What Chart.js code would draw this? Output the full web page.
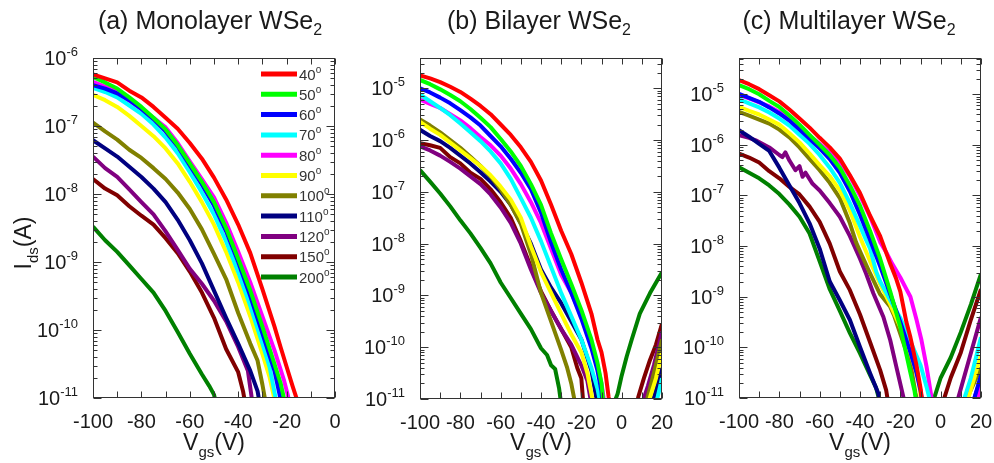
<!DOCTYPE html>
<html><head><meta charset="utf-8">
<script src="https://cdn.jsdelivr.net/npm/chart.js@4.4.1/dist/chart.umd.min.js"></script>
<style>
html,body{margin:0;padding:0;background:#fff;}
#wrap{position:relative;width:994px;height:463px;overflow:hidden;background:#fff;}
canvas{position:absolute;left:0;top:0;}
</style></head><body>
<div id="wrap">
<canvas id="ca" width="994" height="463"></canvas>
<canvas id="cb" width="994" height="463"></canvas>
<canvas id="cc" width="994" height="463"></canvas>
</div>
<script>
// ---- categories ----
const temps = ['40','50','60','70','80','90','100','110','120','150','200'];
const lineColors = ['#ff0000','#00ff00','#0000ff','#00ffff','#ff00ff','#ffff00','#808000','#000080','#800080','#800000','#008000'];

// ---- tick labels ----
const monoXTicks = [-100,-80,-60,-40,-20,0];
const biXTicks = [-100,-80,-60,-40,-20,0,20];
const multiXTicks = [-100,-80,-60,-40,-20,0,20];
const monoYExps = [-11,-10,-9,-8,-7,-6];
const biYExps = [-11,-10,-9,-8,-7,-6,-5];
const multiYExps = [-11,-10,-9,-8,-7,-6,-5];

// ---- (a) Monolayer: [Vgs (V), Ids (A)] ----
const mono40 = [[-100,5.75e-7],[-95,5.01e-7],[-90,4.37e-7],[-85,3.31e-7],[-80,2.63e-7],[-75,1.91e-7],[-70,1.32e-7],[-65,9.12e-8],[-60,5.62e-8],[-55,3.31e-8],[-50,1.74e-8],[-45,8.32e-9],[-40,3.55e-9],[-35,1.35e-9],[-30,3.98e-10],[-25,1.12e-10],[-22.5,5.62e-11],[-20,2.88e-11],[-17.5,1.48e-11],[-15,7.94e-12]];
const mono50 = [[-100,5.25e-7],[-95,4.37e-7],[-90,3.55e-7],[-85,2.63e-7],[-80,1.91e-7],[-75,1.32e-7],[-70,8.91e-8],[-65,5.25e-8],[-60,2.82e-8],[-55,1.51e-8],[-50,7.59e-9],[-45,3.16e-9],[-40,1.12e-9],[-35,3.80e-10],[-30,1.12e-10],[-25,3.16e-11],[-22.5,1.66e-11],[-20.5,7.94e-12]];
const mono60 = [[-100,3.98e-7],[-95,3.55e-7],[-90,3.02e-7],[-85,2.40e-7],[-80,1.78e-7],[-75,1.26e-7],[-70,8.32e-8],[-65,5.01e-8],[-60,2.63e-8],[-55,1.38e-8],[-50,6.76e-9],[-45,2.82e-9],[-40,1.0e-9],[-35,3.16e-10],[-30,8.91e-11],[-25,2.51e-11],[-22,7.94e-12]];
const mono70 = [[-100,3.63e-7],[-95,3.16e-7],[-90,2.63e-7],[-85,2.0e-7],[-80,1.51e-7],[-75,1.05e-7],[-70,6.76e-8],[-65,3.98e-8],[-60,2.09e-8],[-55,1.05e-8],[-50,5.01e-9],[-45,2.0e-9],[-40,7.08e-10],[-35,2.24e-10],[-30,6.31e-11],[-27,2.82e-11],[-24,7.94e-12]];
const mono80 = [[-100,4.47e-7],[-95,3.80e-7],[-90,3.16e-7],[-85,2.34e-7],[-80,1.78e-7],[-75,1.32e-7],[-70,9.55e-8],[-65,5.62e-8],[-60,3.02e-8],[-55,1.66e-8],[-50,8.91e-9],[-45,3.80e-9],[-40,1.41e-9],[-35,5.01e-10],[-30,1.58e-10],[-25,5.01e-11],[-21,1.78e-11],[-18.5,7.94e-12]];
const mono90 = [[-100,2.88e-7],[-95,2.40e-7],[-90,1.91e-7],[-85,1.41e-7],[-80,1.0e-7],[-75,7.08e-8],[-70,4.68e-8],[-65,2.82e-8],[-60,1.51e-8],[-55,7.59e-9],[-50,3.55e-9],[-45,1.41e-9],[-40,5.01e-10],[-35,1.58e-10],[-30,4.47e-11],[-27,2.0e-11],[-24.5,7.94e-12]];
const mono100 = [[-100,1.12e-7],[-95,8.32e-8],[-90,6.31e-8],[-85,4.47e-8],[-80,3.39e-8],[-75,2.40e-8],[-70,1.66e-8],[-65,1.05e-8],[-60,6.03e-9],[-55,3.02e-9],[-50,1.32e-9],[-45,5.62e-10],[-40,1.78e-10],[-35,6.31e-11],[-32,3.55e-11],[-30,1.58e-11],[-28.5,7.94e-12]];
const mono110 = [[-100,6.17e-8],[-95,4.68e-8],[-90,3.55e-8],[-85,2.51e-8],[-80,1.78e-8],[-75,1.20e-8],[-70,7.59e-9],[-65,4.17e-9],[-60,2.09e-9],[-55,9.55e-10],[-50,3.80e-10],[-45,1.51e-10],[-40,6.31e-11],[-35,2.51e-11],[-32,1.26e-11],[-31,7.94e-12]];
const mono120 = [[-100,3.55e-8],[-95,2.40e-8],[-90,1.78e-8],[-85,1.17e-8],[-80,7.59e-9],[-75,5.01e-9],[-70,2.82e-9],[-65,1.51e-9],[-60,7.94e-10],[-55,4.79e-10],[-50,2.69e-10],[-45,1.35e-10],[-40,5.62e-11],[-36,2.51e-11],[-34,7.94e-12]];
const mono150 = [[-100,1.66e-8],[-95,1.20e-8],[-90,9.55e-9],[-85,6.61e-9],[-80,4.79e-9],[-75,3.55e-9],[-70,2.24e-9],[-65,1.35e-9],[-60,7.24e-10],[-55,3.55e-10],[-50,1.51e-10],[-45,5.25e-11],[-40,2.40e-11],[-38,1.26e-11],[-37,7.94e-12]];
const mono200 = [[-100,3.31e-9],[-95,2.09e-9],[-90,1.41e-9],[-85,8.91e-10],[-80,5.62e-10],[-75,3.55e-10],[-70,1.91e-10],[-65,9.33e-11],[-60,4.47e-11],[-55,2.24e-11],[-52,1.51e-11],[-50,1.12e-11],[-49,7.94e-12]];

// ---- (b) Bilayer ----
const bi40 = [[-100,1.78e-5],[-95,1.55e-5],[-90,1.32e-5],[-85,1.07e-5],[-80,8.51e-6],[-75,6.31e-6],[-70,4.57e-6],[-65,3.16e-6],[-60,2.0e-6],[-55,1.26e-6],[-50,7.24e-7],[-45,3.80e-7],[-40,1.66e-7],[-35,5.62e-8],[-30,1.78e-8],[-25,6.31e-9],[-20,1.78e-9],[-15,4.47e-10],[-12,1.41e-10],[-10,7.94e-11],[-8,3.16e-11],[-6.5,1.12e-11],[-5.5,6.31e-12]];
const bi50 = [[-100,1.45e-5],[-95,1.20e-5],[-90,9.55e-6],[-85,7.41e-6],[-80,5.62e-6],[-75,3.98e-6],[-70,2.69e-6],[-65,1.78e-6],[-60,1.05e-6],[-55,6.03e-7],[-50,3.16e-7],[-45,1.41e-7],[-40,5.62e-8],[-35,1.58e-8],[-30,5.01e-9],[-25,1.66e-9],[-20,5.25e-10],[-15,1.41e-10],[-12,5.01e-11],[-10,2.0e-11],[-9,7.94e-12]];
const bi60 = [[-100,1.0e-5],[-95,8.32e-6],[-90,6.61e-6],[-85,5.13e-6],[-80,3.80e-6],[-75,2.75e-6],[-70,1.91e-6],[-65,1.20e-6],[-60,7.59e-7],[-55,4.37e-7],[-50,2.34e-7],[-45,1.12e-7],[-40,3.98e-8],[-35,1.05e-8],[-30,3.16e-9],[-25,1.12e-9],[-20,3.55e-10],[-15,9.55e-11],[-12,3.55e-11],[-10,1.41e-11],[-9.5,7.94e-12]];
const bi70 = [[-100,7.59e-6],[-95,5.62e-6],[-90,4.17e-6],[-85,3.02e-6],[-80,2.09e-6],[-75,1.41e-6],[-70,9.55e-7],[-65,6.03e-7],[-60,3.55e-7],[-55,1.78e-7],[-50,7.59e-8],[-45,3.16e-8],[-40,1.12e-8],[-35,3.55e-9],[-30,1.12e-9],[-25,3.98e-10],[-20,1.41e-10],[-15,3.98e-11],[-12,1.58e-11],[-10.5,7.94e-12],[0,null],[17,7.94e-12],[20,2.51e-11]];
const bi80 = [[-100,6.03e-6],[-95,5.01e-6],[-90,4.17e-6],[-85,3.16e-6],[-80,2.40e-6],[-75,1.70e-6],[-70,1.15e-6],[-65,7.94e-7],[-60,5.01e-7],[-55,2.82e-7],[-50,1.41e-7],[-45,6.31e-8],[-40,2.51e-8],[-35,7.94e-9],[-30,2.51e-9],[-25,1.12e-9],[-20,3.98e-10],[-15,1.12e-10],[-12,4.47e-11],[-10,2.0e-11],[-8.5,7.94e-12]];
const bi90 = [[-100,2.24e-6],[-95,1.66e-6],[-90,1.26e-6],[-85,8.91e-7],[-80,6.31e-7],[-75,4.47e-7],[-70,3.16e-7],[-65,2.09e-7],[-60,1.26e-7],[-55,7.08e-8],[-50,3.16e-8],[-45,8.91e-9],[-40,2.82e-9],[-35,1.12e-9],[-30,4.47e-10],[-25,1.78e-10],[-20,7.94e-11],[-17,3.16e-11],[-14,7.94e-12],[0,null],[13,7.94e-12],[17,2.51e-11],[20,7.94e-11]];
const bi100 = [[-100,2.51e-6],[-95,1.91e-6],[-90,1.41e-6],[-85,1.0e-6],[-80,7.08e-7],[-75,4.79e-7],[-70,3.16e-7],[-65,2.0e-7],[-60,1.12e-7],[-55,5.62e-8],[-50,2.40e-8],[-45,6.31e-9],[-40,1.12e-9],[-35,3.16e-10],[-30,8.91e-11],[-27,3.98e-11],[-25,2.0e-11],[-23,7.94e-12],[0,null],[12,7.94e-12],[16,3.16e-11],[20,1.41e-10]];
const bi110 = [[-100,1.58e-6],[-95,1.20e-6],[-90,9.55e-7],[-85,7.08e-7],[-80,5.01e-7],[-75,3.55e-7],[-70,2.40e-7],[-65,1.58e-7],[-60,1.0e-7],[-55,5.62e-8],[-50,2.51e-8],[-45,1.0e-8],[-40,3.16e-9],[-35,1.41e-9],[-30,7.08e-10],[-25,3.16e-10],[-20,1.41e-10],[-15,3.55e-11],[-12,7.94e-12],[0,null],[15,7.94e-12],[18,2.0e-11],[20,3.98e-11]];
const bi120 = [[-100,7.59e-7],[-95,6.31e-7],[-90,5.01e-7],[-85,3.80e-7],[-80,2.82e-7],[-75,2.0e-7],[-70,1.41e-7],[-65,8.91e-8],[-60,5.01e-8],[-55,2.51e-8],[-50,1.0e-8],[-45,3.16e-9],[-40,1.12e-9],[-35,5.01e-10],[-30,2.24e-10],[-25,1.12e-10],[-20,4.47e-11],[-17,2.24e-11],[-15,7.94e-12],[0,null],[10,7.94e-12],[13,1.78e-11],[16,4.47e-11],[20,2.0e-10]];
const bi150 = [[-100,8.71e-7],[-95,7.94e-7],[-90,7.08e-7],[-85,4.68e-7],[-80,3.55e-7],[-75,2.34e-7],[-70,1.78e-7],[-65,1.12e-7],[-60,6.31e-8],[-55,3.16e-8],[-50,1.12e-8],[-45,3.55e-9],[-40,1.20e-9],[-35,5.01e-10],[-30,2.24e-10],[-25,1.0e-10],[-22,3.98e-11],[-20,2.51e-11],[-19,7.94e-12],[0,null],[7.5,7.94e-12],[8.3,1.12e-11],[11,2.51e-11],[14,5.62e-11],[17,1.12e-10],[20,2.82e-10]];
const bi200 = [[-100,2.63e-7],[-95,1.58e-7],[-90,9.33e-8],[-85,5.25e-8],[-80,2.82e-8],[-75,1.58e-8],[-70,8.32e-9],[-65,4.17e-9],[-60,1.78e-9],[-55,8.91e-10],[-50,4.47e-10],[-45,2.24e-10],[-40,9.55e-11],[-37,7.08e-11],[-35,4.47e-11],[-33,3.80e-11],[-31,1.58e-11],[-30,7.94e-12],[-17,null],[-4,7.94e-12],[-2,1.26e-11],[0,2.82e-11],[2.5,6.61e-11],[5,1.41e-10],[9,4.47e-10],[14,1.10e-9],[20,2.82e-9]];

// ---- (c) Multilayer ----
const multi40 = [[-100,1.91e-5],[-95,1.58e-5],[-90,1.26e-5],[-85,9.55e-6],[-80,7.24e-6],[-75,5.01e-6],[-70,3.31e-6],[-65,2.19e-6],[-60,1.38e-6],[-55,8.91e-7],[-50,5.37e-7],[-45,2.51e-7],[-40,1.12e-7],[-35,3.98e-8],[-30,1.58e-8],[-25,4.47e-9],[-22,2.24e-9],[-20,1.26e-9],[-17,3.16e-10],[-15,1.58e-10],[-12,4.47e-11],[-10,1.58e-11],[-9,7.94e-12]];
const multi50 = [[-100,1.51e-5],[-95,1.26e-5],[-90,1.0e-5],[-85,7.41e-6],[-80,5.62e-6],[-75,3.80e-6],[-70,2.51e-6],[-65,1.58e-6],[-60,1.0e-6],[-55,6.31e-7],[-50,3.55e-7],[-45,1.58e-7],[-40,6.31e-8],[-35,2.0e-8],[-30,5.62e-9],[-25,1.26e-9],[-20,2.51e-10],[-15,3.16e-11],[-13,1.41e-11],[-12,7.94e-12]];
const multi60 = [[-100,1.02e-5],[-95,8.51e-6],[-90,7.08e-6],[-85,5.50e-6],[-80,4.17e-6],[-75,3.02e-6],[-70,2.0e-6],[-65,1.32e-6],[-60,8.51e-7],[-55,5.25e-7],[-50,2.82e-7],[-45,1.20e-7],[-40,4.17e-8],[-35,1.32e-8],[-30,3.98e-9],[-25,1.12e-9],[-20,3.16e-10],[-15,7.94e-11],[-12,3.16e-11],[-10,1.41e-11],[-9,7.94e-12],[0,null],[16,7.94e-12],[20,2.82e-11]];
const multi70 = [[-100,7.94e-6],[-95,6.61e-6],[-90,5.50e-6],[-85,4.37e-6],[-80,3.31e-6],[-75,2.40e-6],[-70,1.58e-6],[-65,1.05e-6],[-60,6.31e-7],[-55,3.55e-7],[-50,1.78e-7],[-45,7.08e-8],[-40,2.51e-8],[-37,1.32e-8],[-35,8.91e-9],[-32,3.16e-9],[-30,2.0e-9],[-25,8.51e-10],[-20,3.80e-10],[-15,1.32e-10],[-10,4.47e-11],[-7,1.66e-11],[-5,7.94e-12],[3,null],[11,7.94e-12],[15,2.51e-11],[20,1.58e-10]];
const multi80 = [[-100,9.55e-6],[-95,8.32e-6],[-90,6.92e-6],[-85,5.75e-6],[-80,4.47e-6],[-75,3.31e-6],[-70,2.24e-6],[-65,1.51e-6],[-60,1.05e-6],[-55,7.08e-7],[-50,4.68e-7],[-45,2.40e-7],[-40,1.0e-7],[-35,3.80e-8],[-30,1.20e-8],[-27,7.59e-9],[-24,4.47e-9],[-20,2.40e-9],[-17,1.41e-9],[-15,1.0e-9],[-12,3.55e-10],[-9.5,1.38e-10],[-7,4.17e-11],[-4.5,1.0e-11],[-4,7.94e-12],[7,null],[18,7.94e-12],[20,1.78e-11]];
const multi90 = [[-100,5.62e-6],[-95,4.68e-6],[-90,3.98e-6],[-85,3.16e-6],[-80,2.51e-6],[-75,1.70e-6],[-70,1.12e-6],[-65,6.76e-7],[-60,3.98e-7],[-55,2.40e-7],[-50,1.26e-7],[-45,5.01e-8],[-40,1.51e-8],[-35,5.01e-9],[-30,1.78e-9],[-25,7.08e-10],[-20,2.51e-10],[-15,7.59e-11],[-11,2.29e-11],[-9.5,7.94e-12],[2,null],[13,7.94e-12],[20,7.08e-11]];
const multi100 = [[-100,4.47e-6],[-95,3.80e-6],[-90,3.16e-6],[-85,2.63e-6],[-80,2.0e-6],[-75,1.41e-6],[-70,8.91e-7],[-65,5.25e-7],[-60,3.16e-7],[-55,1.78e-7],[-50,8.91e-8],[-45,2.82e-8],[-42,1.20e-8],[-40,7.94e-9],[-35,2.88e-9],[-30,1.12e-9],[-27,7.94e-10],[-25,6.31e-10],[-23,4.17e-10],[-20,1.86e-10],[-15,4.79e-11],[-12.5,1.26e-11],[-11.5,7.94e-12],[0,null],[12,7.94e-12],[20,3.98e-11]];
const multi110 = [[-100,1.95e-6],[-95,1.45e-6],[-90,1.05e-6],[-85,7.59e-7],[-80,3.55e-7],[-75,1.58e-7],[-70,7.08e-8],[-65,2.82e-8],[-60,8.91e-9],[-55,2.0e-9],[-50,8.51e-10],[-45,3.47e-10],[-40,1.02e-10],[-35,3.09e-11],[-31,1.26e-11],[-30,7.94e-12],[0,null],[16,7.94e-12],[20,2.51e-11]];
const multi120 = [[-100,1.55e-6],[-95,1.38e-6],[-91.7,1.23e-6],[-85,8.91e-7],[-80,6.31e-7],[-78.5,5.75e-7],[-77,7.08e-7],[-75,4.90e-7],[-72,3.16e-7],[-70,3.80e-7],[-68.5,2.34e-7],[-67,2.82e-7],[-63.5,1.70e-7],[-60,1.26e-7],[-55,7.08e-8],[-50,3.80e-8],[-45,1.58e-8],[-40,5.62e-9],[-37,2.88e-9],[-33.4,1.17e-9],[-28.4,3.98e-10],[-25,1.38e-10],[-22,4.17e-11],[-18.5,1.05e-11],[-18,7.94e-12],[0,null],[8,7.94e-12],[14.5,6.61e-11],[20,3.98e-10]];
const multi150 = [[-100,6.76e-7],[-95,5.62e-7],[-90,4.47e-7],[-85,3.02e-7],[-80,2.19e-7],[-75,1.48e-7],[-70,1.05e-7],[-65,6.03e-8],[-60,3.02e-8],[-55,1.12e-8],[-50,3.16e-9],[-45,1.35e-9],[-40,4.47e-10],[-35,1.26e-10],[-30,3.55e-11],[-27,1.41e-11],[-26,7.94e-12],[-10,null],[1,7.94e-12],[5,2.51e-11],[10,7.94e-11],[15,3.55e-10],[20,1.41e-9]];
const multi200 = [[-100,3.63e-7],[-95,2.82e-7],[-90,2.19e-7],[-85,1.58e-7],[-80,1.07e-7],[-75,6.61e-8],[-70,3.80e-8],[-65,1.78e-8],[-60,5.01e-9],[-55,1.41e-9],[-50,5.25e-10],[-45,1.91e-10],[-40,7.59e-11],[-35,2.82e-11],[-32,1.58e-11],[-30,7.94e-12],[-17,null],[-4,7.94e-12],[0,2.51e-11],[5,6.31e-11],[10,2.0e-10],[15,7.08e-10],[20,2.82e-9]];

const monoSeries = [mono40,mono50,mono60,mono70,mono80,mono90,mono100,mono110,mono120,mono150,mono200];
const biSeries = [bi40,bi50,bi60,bi70,bi80,bi90,bi100,bi110,bi120,bi150,bi200];
const multiSeries = [multi40,multi50,multi60,multi70,multi80,multi90,multi100,multi110,multi120,multi150,multi200];

const FONT = '"Liberation Sans", Arial, Helvetica, sans-serif';
const INK = '#1a1a1a';

const decor = {
  id: 'decor',
  afterDraw(chart, args, o) {
    const ctx = chart.ctx, a = chart.chartArea, xs = chart.scales.x, ys = chart.scales.y;
    ctx.save();
    const L = Math.round(a.left) + 0.5, R = Math.round(a.right) - 0.5, T = Math.round(a.top) + 0.5, B = Math.round(a.bottom) - 0.5;
    ctx.strokeStyle = '#333'; ctx.lineWidth = 1;
    ctx.beginPath();
    for (let v = o.xMin; v <= o.xMax + 1e-9; v += 10) {
      const px = Math.round(xs.getPixelForValue(v)) + 0.5;
      ctx.moveTo(px, B); ctx.lineTo(px, B - 6);
      ctx.moveTo(px, T); ctx.lineTo(px, T + 6);
    }
    for (let e = -12; e <= -3; e++) {
      for (let k = 1; k <= 9; k++) {
        const v = k * Math.pow(10, e);
        if (v < ys.min * 0.9999 || v > ys.max * 1.0001) continue;
        const py = Math.round(ys.getPixelForValue(v)) + 0.5;
        const len = k === 1 ? 8 : 4;
        ctx.moveTo(L, py); ctx.lineTo(L + len, py);
        ctx.moveTo(R, py); ctx.lineTo(R - len, py);
      }
    }
    ctx.stroke();
    ctx.strokeRect(L, T, R - L, B - T);

    ctx.fillStyle = INK;
    ctx.textBaseline = 'alphabetic';
    // x tick labels
    ctx.font = '20px ' + FONT; ctx.textAlign = 'center';
    o.xLabels.forEach(v => ctx.fillText(String(v), xs.getPixelForValue(v), a.bottom + 30));
    // y tick labels 10^n
    ctx.textAlign = 'left';
    o.yExps.forEach(e => {
      const py = ys.getPixelForValue(Math.pow(10, e));
      ctx.font = '20px ' + FONT; const w1 = ctx.measureText('10').width;
      ctx.font = '13px ' + FONT; const w2 = ctx.measureText(String(e)).width;
      const x0 = a.left - 15 - w1 - w2;
      ctx.font = '20px ' + FONT; ctx.fillText('10', x0, py + 7);
      ctx.font = '13px ' + FONT; ctx.fillText(String(e), x0 + w1, py - 2);
    });
    // x axis title V_gs(V)
    {
      const cx = (a.left + a.right) / 2, by = 450;
      ctx.font = '23px ' + FONT; const wV = ctx.measureText('V').width, wP = ctx.measureText('(V)').width;
      ctx.font = '15px ' + FONT; const wS = ctx.measureText('gs').width;
      let x = cx - (wV + wS + wP) / 2;
      ctx.font = '23px ' + FONT; ctx.fillText('V', x, by); x += wV;
      ctx.font = '15px ' + FONT; ctx.fillText('gs', x, by + 7); x += wS;
      ctx.font = '23px ' + FONT; ctx.fillText('(V)', x, by);
    }
    // panel title
    {
      ctx.font = '25px ' + FONT; const w1 = ctx.measureText(o.title).width;
      ctx.font = '16px ' + FONT; const w2 = ctx.measureText(o.titleSub).width;
      const x = o.titleCx - (w1 + w2) / 2;
      ctx.font = '25px ' + FONT; ctx.fillText(o.title, x, 29);
      ctx.font = '16px ' + FONT; ctx.fillText(o.titleSub, x + w1, 35);
    }
    // y axis title I_ds(A)
    if (o.yTitle) {
      ctx.save();
      ctx.translate(31, 243); ctx.rotate(-Math.PI / 2);
      ctx.font = '23px ' + FONT; const wI = ctx.measureText('I').width, wA = ctx.measureText('(A)').width;
      ctx.font = '15px ' + FONT; const wd = ctx.measureText('ds').width;
      let x = -(wI + wd + wA) / 2;
      ctx.font = '23px ' + FONT; ctx.fillText('I', x, 0); x += wI;
      ctx.font = '15px ' + FONT; ctx.fillText('ds', x, 7); x += wd;
      ctx.font = '23px ' + FONT; ctx.fillText('(A)', x, 0);
      ctx.restore();
    }
    // legend
    if (o.legend) {
      const lg = o.legend;
      chart.data.datasets.forEach((ds, i) => {
        const y = lg.y0 + i * lg.dy;
        ctx.strokeStyle = ds.borderColor; ctx.lineWidth = 5; ctx.lineCap = 'butt';
        ctx.beginPath(); ctx.moveTo(lg.x0, y); ctx.lineTo(lg.x0 + 36, y); ctx.stroke();
        ctx.fillStyle = '#333';
        const t = ds.label.replace('°', '');
        ctx.font = '15px ' + FONT; ctx.fillText(t, lg.x0 + 38, y + 5.5);
        const w = ctx.measureText(t).width;
        ctx.font = '10px ' + FONT; ctx.fillText('o', lg.x0 + 38 + w, y - 1.5);
      });
    }
    ctx.restore();
  }
};

function makeChart(id, series, o) {
  const datasets = series.map((s, i) => ({
    label: temps[i] + '°',
    data: s.map(p => ({ x: p[0], y: p[1] })),
    borderColor: lineColors[i],
    backgroundColor: lineColors[i],
    borderWidth: 4,
    pointRadius: 0,
    tension: 0,
    fill: false,
    spanGaps: false,
    clip: 0,
    borderJoinStyle: 'round'
  }));
  return new Chart(document.getElementById(id), {
    type: 'line',
    data: { datasets },
    options: {
      responsive: false,
      animation: false,
      events: [],
      layout: { padding: { left: o.area[0], right: 994 - o.area[1], top: o.area[2], bottom: 463 - o.area[3] } },
      scales: {
        x: { type: 'linear', min: o.xMin, max: o.xMax, display: false },
        y: { type: 'logarithmic', min: o.yMin, max: o.yMax, display: false }
      },
      plugins: { legend: { display: false }, tooltip: { enabled: false }, title: { display: false }, decor: o }
    },
    plugins: [decor]
  });
}

makeChart('ca', monoSeries, {
  area: [93, 335, 58, 398], xMin: -100, xMax: 0, yMin: 1e-11, yMax: 1e-6,
  xLabels: monoXTicks, yExps: monoYExps, title: '(a) Monolayer WSe', titleSub: '2', titleCx: 210,
  yTitle: true, legend: { x0: 261, y0: 74, dy: 20.3 }
});
makeChart('cb', biSeries, {
  area: [420, 662, 58, 399], xMin: -100, xMax: 20, yMin: 1e-11, yMax: 3.85e-5,
  xLabels: biXTicks, yExps: biYExps, title: '(b) Bilayer WSe', titleSub: '2', titleCx: 539
});
makeChart('cc', multiSeries, {
  area: [739, 981, 58, 398], xMin: -100, xMax: 20, yMin: 1e-11, yMax: 5.2e-5,
  xLabels: multiXTicks, yExps: multiYExps, title: '(c) Multilayer WSe', titleSub: '2', titleCx: 849
});
</script>
</body></html>
